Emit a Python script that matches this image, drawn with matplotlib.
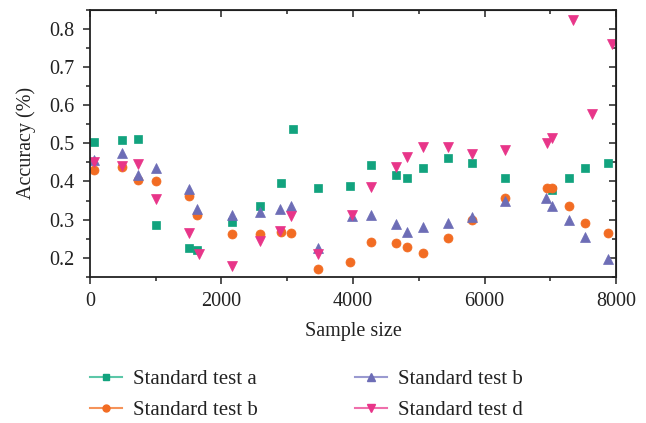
import numpy as np
import matplotlib
matplotlib.use("Agg")
import matplotlib.pyplot as plt
from matplotlib.ticker import MultipleLocator

plt.rcParams["font.family"] = "Liberation Serif"

# data
xa = [65, 482, 735, 999, 1506, 1623, 2165, 2586, 2900, 3093, 3463,
      3954, 4279, 4659, 4826, 5065, 5450, 5810, 6307, 7023, 7290, 7529, 7883]
ya = [0.504, 0.509, 0.511, 0.287, 0.225, 0.220, 0.293, 0.337, 0.395, 0.536, 0.384,
      0.389, 0.443, 0.418, 0.408, 0.436, 0.462, 0.447, 0.409, 0.378, 0.408, 0.434, 0.447]

xb = [65, 482, 735, 999, 1506, 1623, 2165, 2586, 2900, 3052, 3463,
      3954, 4279, 4659, 4826, 5065, 5450, 5810, 6307, 6946, 7031, 7290, 7529, 7883]
yb = [0.429, 0.439, 0.404, 0.402, 0.363, 0.311, 0.262, 0.262, 0.268, 0.264, 0.170,
      0.188, 0.242, 0.240, 0.228, 0.213, 0.253, 0.300, 0.356, 0.383, 0.383, 0.336, 0.290, 0.265]

xc = [65, 482, 735, 999, 1506, 1623, 2165, 2586, 2890, 3057, 3463,
      3990, 4279, 4659, 4826, 5065, 5450, 5810, 6307, 6935, 7031, 7290, 7529, 7883]
yc = [0.456, 0.474, 0.416, 0.436, 0.380, 0.329, 0.311, 0.319, 0.328, 0.335, 0.226,
      0.309, 0.311, 0.289, 0.268, 0.282, 0.291, 0.307, 0.350, 0.358, 0.335, 0.300, 0.255, 0.196]

xd = [65, 482, 735, 999, 1506, 1663, 2165, 2586, 2890, 3057, 3463,
      3990, 4279, 4659, 4826, 5065, 5450, 5810, 6307, 6946, 7031, 7351, 7640, 7934]
yd = [0.450, 0.441, 0.446, 0.354, 0.265, 0.209, 0.180, 0.243, 0.270, 0.309, 0.209,
      0.313, 0.385, 0.437, 0.465, 0.489, 0.491, 0.473, 0.483, 0.500, 0.513, 0.823, 0.576, 0.761]

labels = ["Standard test a", "Standard test b", "Standard test b", "Standard test d"]
colors = ["#12a37e", "#f26c23", "#6d6db6", "#e83589"]
light = ["#5cc7a8", "#f5935a", "#9a9ad0", "#ef6fab"]
markers = ["s", "o", "^", "v"]
sizes = [6, 6.5, 7.5, 7.5]

fig = plt.figure(figsize=(6.46, 4.23), dpi=100)
ax = fig.add_axes([0.1393, 0.3452, 0.8143, 0.6323])

series = [(xa, ya), (xb, yb), (xc, yc), (xd, yd)]
for (x, y), lab, c, lc, m, s in zip(series, labels, colors, light, markers, sizes):
    ax.plot(x, y, linestyle="none", marker=m, ms=s, color=c, mec=c, mew=0.5)
    # legend proxy: light line with dark marker
    ax.plot([], [], color=lc, lw=1.5, marker=m, ms=s - 1.5, mfc=c, mec=c, label=lab)

ax.set_xlim(0, 8000)
ax.set_ylim(0.15, 0.85)
ax.xaxis.set_major_locator(MultipleLocator(2000))
ax.xaxis.set_minor_locator(MultipleLocator(1000))
ax.yaxis.set_major_locator(MultipleLocator(0.1))
ax.yaxis.set_minor_locator(MultipleLocator(0.05))
ax.set_yticks([0.2, 0.3, 0.4, 0.5, 0.6, 0.7, 0.8])
ax.set_yticklabels(["0.2", "0.3", "0.4", "0.5", "0.6", "0.7", "0.8"])

for sp in ax.spines.values():
    sp.set_linewidth(1.3)
    sp.set_color("#222222")

ax.tick_params(which="both", direction="out", top=False, right=False,
               labelsize=14.5, colors="#222222", width=1.1)
ax.tick_params(which="major", length=5, pad=6)
ax.tick_params(which="minor", length=3)
# inward ticks on top and right spines
ax2 = ax.secondary_xaxis("top")
ax2.xaxis.set_major_locator(MultipleLocator(2000))
ax2.xaxis.set_minor_locator(MultipleLocator(1000))
ax2.tick_params(which="both", direction="in", labeltop=False, width=1.1, colors="#222222")
ax2.tick_params(which="major", length=5)
ax2.tick_params(which="minor", length=3)
ax3 = ax.secondary_yaxis("right")
ax3.yaxis.set_major_locator(MultipleLocator(0.1))
ax3.yaxis.set_minor_locator(MultipleLocator(0.05))
ax3.tick_params(which="both", direction="in", labelright=False, width=1.1, colors="#222222")
ax3.tick_params(which="major", length=5)
ax3.tick_params(which="minor", length=3)

ax.set_xlabel("Sample size", fontsize=14.5, color="#222222", labelpad=8)
ax.set_ylabel("Accuracy (%)", fontsize=14.5, color="#222222", labelpad=10)

fig.legend(loc="upper left", bbox_to_anchor=(0.1393, 0.126), ncol=2, frameon=False,
           fontsize=15, handlelength=1.54, columnspacing=4.65, handletextpad=0.53,
           labelspacing=0.55, borderpad=0, borderaxespad=0, labelcolor="#222222")

fig.savefig("out.png", dpi=100)
